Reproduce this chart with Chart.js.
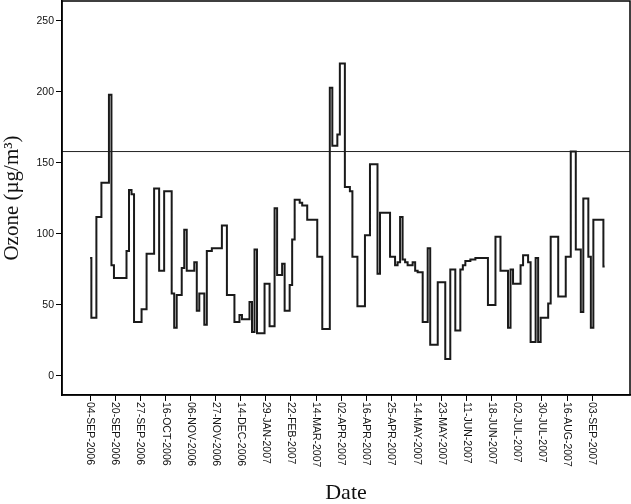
<!DOCTYPE html>
<html>
<head>
<meta charset="utf-8">
<script src="https://cdn.jsdelivr.net/npm/chart.js@4"></script>
<style>
  body { margin: 0; background: #fff; }
  canvas { display: block; }
</style>
</head>
<body>
<canvas id="ozoneChart" width="631" height="504"></canvas>
<script>
// tick labels shown on the date axis, one every pointsPerLabel observations
const tickLabels = [
    '04-SEP-2006', '20-SEP-2006', '27-SEP-2006', '16-OCT-2006', '06-NOV-2006',
    '27-NOV-2006', '14-DEC-2006', '29-JAN-2007', '22-FEB-2007', '14-MAR-2007',
    '02-APR-2007', '16-APR-2007', '25-APR-2007', '14-MAY-2007', '23-MAY-2007',
    '11-JUN-2007', '18-JUN-2007', '02-JUL-2007', '30-JUL-2007', '16-AUG-2007',
    '03-SEP-2007'
];
const pointsPerLabel = 10;

// ozone readings (µg/m3)
const ozoneValues = [
    83, 41, 41, 112, 112, 136, 136, 136, 198, 78,
    69, 69, 69, 69, 69, 88, 131, 128, 38, 38,
    38, 47, 47, 86, 86, 86, 132, 132, 74, 74,
    130, 130, 130, 58, 34, 57, 57, 76, 103, 74,
    74, 74, 80, 46, 58, 58, 36, 88, 88, 90,
    90, 90, 90, 106, 106, 57, 57, 57, 38, 38,
    43, 40, 40, 40, 52, 31, 89, 30, 30, 30,
    65, 65, 35, 35, 118, 71, 71, 79, 46, 46,
    64, 96, 124, 124, 122, 120, 120, 110, 110, 110,
    110, 84, 84, 33, 33, 33, 203, 162, 162, 170,
    220, 220, 133, 133, 130, 84, 84, 49, 49, 49,
    99, 99, 149, 149, 149, 72, 115, 115, 115, 115,
    84, 84, 78, 80, 112, 82, 80, 78, 78, 80,
    74, 73, 73, 38, 38, 90, 22, 22, 22, 66,
    66, 66, 12, 12, 75, 75, 32, 32, 75, 78,
    81, 81, 82, 82, 83, 83, 83, 83, 83, 50,
    50, 50, 98, 98, 74, 74, 74, 34, 75, 65,
    65, 65, 78, 85, 85, 80, 24, 24, 83, 24,
    41, 41, 41, 51, 98, 98, 98, 56, 56, 56,
    84, 84, 158, 158, 89, 89, 45, 125, 125, 84,
    34, 110, 110, 110, 110, 77
];

// reference (limit) line
const limitValue = 158;

// axis ranges
const xMin = -11.2, xMax = 215.1;
const yMin = -13.4, yMax = 264;
const yTicks = [0, 50, 100, 150, 200, 250];

const tickFont = { family: '"Liberation Sans", Arial, sans-serif', size: 10.5 };
const titleFont = { family: '"Liberation Serif", "Times New Roman", serif', size: 21, lineHeight: 1 };

// box round the plot + date labels written top-to-bottom
const framePlugin = {
    id: 'frame',
    afterDraw(chart) {
        const { ctx, chartArea: a, scales: { x } } = chart;
        ctx.save();
        ctx.strokeStyle = '#000';
        ctx.lineWidth = 1.5;
        ctx.strokeRect(a.left, a.top, a.right - a.left, a.bottom - a.top);

        ctx.fillStyle = '#111';
        ctx.font = tickFont.size + 'px ' + tickFont.family;
        ctx.textAlign = 'left';
        ctx.textBaseline = 'middle';
        x.ticks.forEach(t => {
            const label = tickLabels[Math.round(t.value / pointsPerLabel)];
            if (!label) return;
            ctx.save();
            ctx.translate(x.getPixelForValue(t.value), a.bottom + 7);
            ctx.rotate(Math.PI / 2);
            ctx.fillText(label, 0, 0);
            ctx.restore();
        });
        ctx.restore();
    }
};

new Chart(document.getElementById('ozoneChart'), {
    type: 'line',
    data: {
        datasets: [{
            data: ozoneValues.map((v, i) => ({ x: i, y: v })),
            borderColor: '#1a1a1a',
            borderWidth: 2,
            pointRadius: 0,
            stepped: 'middle',
            fill: false
        }, {
            data: [{ x: xMin, y: limitValue }, { x: xMax, y: limitValue }],
            borderColor: '#222',
            borderWidth: 1,
            pointRadius: 0,
            fill: false
        }]
    },
    options: {
        responsive: false,
        animation: false,
        events: [],
        layout: { padding: { top: 1, right: 1, left: 0, bottom: 0 } },
        plugins: { legend: { display: false }, tooltip: { enabled: false } },
        scales: {
            x: {
                type: 'linear',
                min: xMin,
                max: xMax,
                afterFit: s => {
                    s.height = 109;
                    s.paddingLeft = 0;
                    s.paddingRight = 0;
                },
                afterBuildTicks: s => {
                    s.ticks = tickLabels.map((_, j) => ({ value: j * pointsPerLabel }));
                },
                grid: { drawOnChartArea: false, drawTicks: true, tickLength: 6, tickColor: '#000' },
                border: { display: true, color: '#000', width: 1.5 },
                ticks: { autoSkip: false, minRotation: 90, maxRotation: 90, color: 'transparent', font: tickFont },
                title: {
                    display: true,
                    text: 'Date',
                    color: '#111',
                    font: { ...titleFont, size: 22 },
                    padding: { top: 0, bottom: 0 }
                }
            },
            y: {
                type: 'linear',
                min: yMin,
                max: yMax,
                afterFit: s => {
                    s.width = 62;
                    s.paddingTop = 0;
                    s.paddingBottom = 0;
                },
                afterBuildTicks: s => {
                    s.ticks = yTicks.map(v => ({ value: v }));
                },
                grid: { drawOnChartArea: false, drawTicks: true, tickLength: 6, tickColor: '#000' },
                border: { display: true, color: '#000', width: 1.5 },
                ticks: { color: '#111', font: tickFont, padding: 2 },
                title: {
                    display: true,
                    text: 'Ozone (µg/m³)',
                    color: '#111',
                    font: titleFont,
                    padding: { top: 2, bottom: 0 }
                }
            }
        }
    },
    plugins: [framePlugin]
});
</script>
</body>
</html>
